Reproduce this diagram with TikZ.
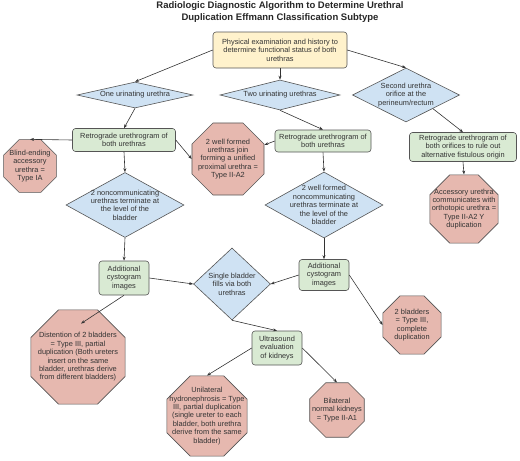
\documentclass[tikz,border=0pt]{standalone}
\usepackage{fontspec}
\setmainfont{Liberation Sans}
\usepackage{tikz}
\usetikzlibrary{shapes.geometric,arrows.meta}
\definecolor{yelfill}{HTML}{FFF2CC}
\definecolor{grnfill}{HTML}{D9EAD3}
\definecolor{blufill}{HTML}{CFE2F3}
\definecolor{redfill}{HTML}{E6B8AF}
\definecolor{edge}{HTML}{555555}
\definecolor{txt}{HTML}{333333}

\begin{document}
\begin{tikzpicture}[x=1pt,y=-1pt,line width=0.6pt,
    every node/.style={font=\fontsize{7.4}{8.4}\selectfont,text=txt,align=center},
    box/.style={draw=edge,rounded corners=3pt,inner sep=1pt},
    startbox/.style={box,fill=yelfill},
    stepbox/.style={box,fill=grnfill},
    dia/.style={diamond,draw=edge,fill=blufill,shape aspect=2,inner sep=-10pt},
    octa/.style={regular polygon,regular polygon sides=8,draw=edge,fill=redfill,inner sep=-20pt},
    arr/.style={draw=black!80,-{Stealth[length=4pt,width=3pt]}}]
  \useasboundingbox (0,0) rectangle (520,461);
  \node[font=\fontsize{9.5}{11.5}\selectfont\bfseries,text=black!85] (title) at (280,12)
    {Radiologic Diagnostic Algorithm to Determine Urethral\\Duplication Effmann Classification Subtype};
  \node[startbox,minimum width=134pt,minimum height=36pt] (exam) at (280,50)
    {Physical examination and history to\\determine functional status of both\\urethras};
  \node[dia,minimum width=116pt,minimum height=26pt] (one) at (135,95) {One urinating urethra};
  \node[dia,minimum width=120pt,minimum height=30pt] (two) at (280,95) {Two urinating urethras};
  \node[dia,minimum width=107pt,minimum height=54pt] (orif) at (406,95)
    {Second urethra\\orifice at the\\perineum/rectum};
  \node[stepbox,minimum width=103pt,minimum height=23pt] (rugl) at (124,140)
    {Retrograde urethrogram of\\both urethras};
  \node[stepbox,minimum width=96pt,minimum height=22pt] (rugm) at (323,141)
    {Retrograde urethrogram of\\both urethras};
  \node[stepbox,minimum width=107pt,minimum height=29pt] (rugr) at (463,147)
    {Retrograde urethrogram of\\both orifices to rule out\\alternative fistulous origin};
  \node[octa,minimum size=57pt] (typeia) at (30,166)
    {Blind-ending\\accessory\\urethra =\\Type IA};
  \node[octa,minimum size=78pt] (typeiia) at (228,159)
    {2 well formed\\urethras join\\forming a unified\\proximal urethra =\\Type II-A2};
  \node[octa,minimum size=74pt] (typey) at (464,209)
    {Accessory urethra\\communicates with\\orthotopic urethra =\\Type II-A2 Y\\duplication};
  \node[dia,minimum width=118pt,minimum height=65pt] (noncl) at (125,205)
    {2 noncommunicating\\urethras terminate at\\the level of the\\bladder};
  \node[dia,minimum width=118pt,minimum height=66pt] (noncr) at (324,205)
    {2 well formed\\noncommunicating\\urethras terminate at\\the level of the\\bladder};
  \node[stepbox,minimum width=50pt,minimum height=34pt] (cystl) at (124,278)
    {Additional\\cystogram\\images};
  \node[stepbox,minimum width=50pt,minimum height=31pt] (cystr) at (324,275)
    {Additional\\cystogram\\images};
  \node[dia,minimum width=77pt,minimum height=72pt] (single) at (232,284)
    {Single bladder\\fills via both\\urethras};
  \node[stepbox,minimum width=50pt,minimum height=34pt] (us) at (277,348)
    {Ultrasound\\evaluation\\of kidneys};
  \node[octa,minimum size=63pt] (complete) at (412,325)
    {2 bladders\\= Type III,\\complete\\duplication};
  \node[octa,minimum size=59pt] (normal) at (337,410)
    {Bilateral\\normal kidneys\\= Type II-A1};
  \node[octa,minimum size=102pt] (disten) at (78,357)
    {Distention of 2 bladders\\= Type III, partial\\duplication (Both ureters\\insert on the same\\bladder, urethras derive\\from different bladders)};
  \node[octa,minimum size=87pt] (hydro) at (207,416)
    {Unilateral\\hydronephrosis = Type\\III, partial duplication\\(single ureter to each\\bladder, both urethra\\derive from the same\\bladder)};
  \draw[arr] (exam.west) -- (one.north);
  \draw[arr] (exam.south) -- (two.north);
  \draw[arr] (exam.east) -- (orif.north);
  \draw[arr] (one.south) -- (rugl.north);
  \draw[arr] (two.south) -- (rugm.north);
  \draw[arr] (orif.south east) -- (rugr.north);
  \draw[arr] (rugl.west) -- (typeia.north);
  \draw[arr] (rugl.east) -- (typeiia.west);
  \draw[arr] (rugm.west) -- (typeiia);
  \draw[arr] (rugr.south) -- (typey.north);
  \draw[arr] (rugl.south) -- (noncl.north);
  \draw[arr] (rugm.south) -- (noncr.north);
  \draw[arr] (noncl.south) -- (cystl.north);
  \draw[arr] (noncr.south) -- (cystr.north);
  \draw[arr] (cystl.east) -- (single.west);
  \draw[arr] (cystr.west) -- (single.east);
  \draw[arr] (single.south) -- (us.north);
  \draw[arr] (cystl.south) -- ([xshift=3pt,yshift=-14pt]disten.north);
  \draw[arr] (cystr.east) -- (complete.west);
  \draw[arr] (us.west) -- (hydro.north);
  \draw[arr] (us.east) -- (normal.north);
\end{tikzpicture}
\end{document}
